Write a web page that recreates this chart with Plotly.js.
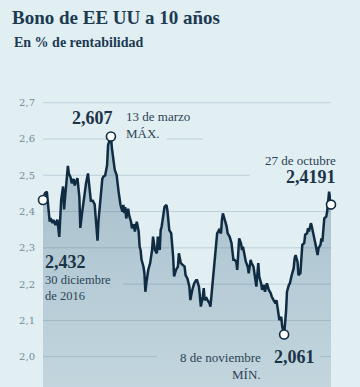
<!DOCTYPE html>
<html><head><meta charset="utf-8">
<script src="https://cdn.plot.ly/plotly-3.0.1.min.js"></script>
<style>html,body{margin:0;padding:0;background:#e1eef2;}#chart{width:360px;height:387px;}</style>
</head><body><div id="chart"></div>
<script>
// Días desde el 30 de diciembre de 2016
const dias = [0,2,4,5,7,8,10,11,13,15,17,19,21,22,24,26,27,29,30,32,33,35,36,38,39,41,43,45,47,49,50,52,54,55,57,58,60,62,63,65,67,68,70,71,72,74,75,77,78,79,81,83,84,85,86,87,89,90,92,93,95,96,98,100,101,102,103,105,106,107,108,110,112,114,115,116,117,119,120,122,123,124,126,127,129,130,132,134,136,137,139,141,142,144,146,148,149,151,153,154,156,158,160,161,163,165,167,168,169,171,172,174,175,177,179,181,182,184,186,187,188,190,192,193,195,197,199,200,202,203,204,205,207,208,209,211,212,214,215,217,218,220,222,223,225,226,228,229,231,232,234,236,238,239,241,243,244,245,246,247,249,250,251,252,254,255,257,258,260,262,263,264,266,267,269,270,271,273,274,276,277,278,280,281,283,284,285,287,288,290,291,292,293,294,296,297,298,299,300,301];
// Rentabilidad del bono a 10 años (%)
const rentabilidad = [2.432,2.450,2.455,2.425,2.372,2.382,2.368,2.377,2.363,2.378,2.330,2.432,2.469,2.406,2.478,2.526,2.505,2.493,2.478,2.490,2.472,2.485,2.492,2.440,2.355,2.400,2.445,2.478,2.505,2.455,2.430,2.430,2.420,2.386,2.320,2.375,2.440,2.490,2.496,2.500,2.528,2.583,2.600,2.607,2.575,2.528,2.515,2.500,2.473,2.455,2.418,2.400,2.418,2.396,2.412,2.381,2.408,2.390,2.372,2.354,2.365,2.345,2.372,2.345,2.303,2.294,2.267,2.248,2.230,2.179,2.202,2.239,2.258,2.294,2.331,2.313,2.294,2.285,2.331,2.294,2.349,2.358,2.395,2.413,2.418,2.404,2.349,2.340,2.276,2.221,2.239,2.248,2.285,2.258,2.253,2.248,2.225,2.215,2.193,2.156,2.184,2.202,2.211,2.211,2.193,2.138,2.166,2.189,2.156,2.161,2.156,2.147,2.138,2.193,2.248,2.294,2.340,2.349,2.340,2.377,2.395,2.377,2.358,2.340,2.331,2.313,2.267,2.267,2.262,2.239,2.285,2.326,2.312,2.294,2.303,2.276,2.262,2.248,2.230,2.267,2.258,2.248,2.212,2.193,2.258,2.221,2.202,2.184,2.198,2.179,2.202,2.184,2.175,2.166,2.156,2.147,2.156,2.129,2.120,2.101,2.110,2.083,2.069,2.061,2.124,2.179,2.198,2.202,2.225,2.244,2.271,2.280,2.262,2.225,2.230,2.271,2.308,2.313,2.336,2.340,2.354,2.345,2.368,2.358,2.336,2.317,2.308,2.280,2.299,2.308,2.326,2.317,2.354,2.381,2.386,2.400,2.427,2.455,2.436,2.4191];
const yTicks = [2.0,2.1,2.2,2.3,2.4,2.5,2.6,2.7];
const titulo = 'Bono de EE UU a 10 años';
const subtitulo = 'En % de rentabilidad';
const fechaInicio = ['30 diciembre','de 2016'];
const fechaMax = ['13 de marzo','MÁX.'];
const fechaMin = ['8 de noviembre','MÍN.'];
const fechaFin = '27 de octubre';

const n = rentabilidad.length;
let iMax = 0, iMin = 0;
rentabilidad.forEach((v,i)=>{ if(v>rentabilidad[iMax]) iMax=i; if(v<rentabilidad[iMin]) iMin=i; });
const fmt = (v,d)=>v.toFixed(d).replace('.',',');

const dark = '#0f2c42';
const txt = '#2c4356';
const bold = '#1b3449';
const serif = 'Liberation Serif';

const lineTrace = {
  x: dias, y: rentabilidad, type:'scatter', mode:'lines',
  line:{color:dark, width:2.5},
  fill:'tozeroy',
  fillgradient:{type:'vertical', start:1.9, stop:2.62,
    colorscale:[[0,'rgba(40,90,120,0.16)'],[1,'rgba(40,90,120,0.33)']]},
  hoverinfo:'skip'
};
const markTrace = {
  x:[dias[0], dias[iMax], dias[iMin], dias[n-1]],
  y:[rentabilidad[0], rentabilidad[iMax], rentabilidad[iMin], rentabilidad[n-1]],
  type:'scatter', mode:'markers', cliponaxis:false,
  marker:{size:9, color:'#ffffff', line:{color:dark, width:1.6}},
  hoverinfo:'skip'
};

const grid = (y,x0,x1)=>({type:'line', xref:'x', yref:'y', x0:x0, x1:x1, y0:y, y1:y, layer:'below', line:{color:'#bdd0d9', width:1}});
const shapes = [
  grid(2.7,0,301), grid(2.6,0,66.9), grid(2.6,129.6,167.2), grid(2.5,0,216.3),
  grid(2.4,0,301), grid(2.3,0,301), grid(2.2,83.6,301), grid(2.1,0,301),
  grid(2.0,0,119.1), grid(2.0,289.5,301)
];

// positions in paper units (plot spans x 43..331 px, y 95..387 px)
const px = p=>(p-43)/288;
const py = p=>(387-p)/292;
const ann = (text,x,y,xa,size,color,isBold)=>({text: isBold?'<b>'+text+'</b>':text, x:px(x), y:py(y), xref:'paper', yref:'paper', xanchor:xa, yanchor:'middle', showarrow:false, font:{family:serif, size:size, color:color}});
const annotations = [
  ann(subtitulo, 12, 43, 'left', 14, '#1b3a52', true),
  ann(fmt(rentabilidad[iMax],3), 115, 117.5, 'right', 18, bold, true),
  ann(fechaMax[0], 124, 117, 'left', 13, txt, false),
  ann(fechaMax[1], 124, 133, 'left', 13, txt, false),
  ann(fechaFin, 338, 160.5, 'right', 13, txt, false),
  ann(fmt(rentabilidad[n-1],4), 338, 177, 'right', 18, bold, true),
  ann(fmt(rentabilidad[0],3), 43, 262, 'left', 18, bold, true),
  {text:fechaInicio.join('<br>'), x:px(43), y:py(287.5), xref:'paper', yref:'paper', xanchor:'left', yanchor:'middle', align:'left', showarrow:false, font:{family:serif, size:12.5, color:txt}},
  ann(fechaMin[0], 263, 357.5, 'right', 13, txt, false),
  ann(fmt(rentabilidad[iMin],3), 272, 357, 'left', 18, bold, true),
  ann(fechaMin[1], 263, 374, 'right', 13, txt, false)
];

const layout = {
  width:360, height:387,
  margin:{l:43, r:29, t:95, b:0, pad:0},
  paper_bgcolor:'#e1eef2', plot_bgcolor:'#e1eef2',
  separators:',.',
  showlegend:false,
  title:{text:'<b>'+titulo+'</b>', xref:'container', yref:'container', x:12/360, xanchor:'left', y:1-17/387, yanchor:'middle', font:{family:serif, size:19, color:'#1b3a52'}},
  xaxis:{range:[0,301], visible:false, fixedrange:true},
  yaxis:{range:[1.9165,2.7212], tickvals:yTicks, tickformat:'.1f', showgrid:false, zeroline:false, showline:false, ticks:'', ticklabelstandoff:7, tickfont:{family:'DejaVu Serif', size:10, color:'#73899a'}, fixedrange:true},
  shapes:shapes,
  annotations:annotations,
  hovermode:false
};
Plotly.newPlot('chart',[lineTrace, markTrace],layout,{staticPlot:true, displayModeBar:false});
</script></body></html>
